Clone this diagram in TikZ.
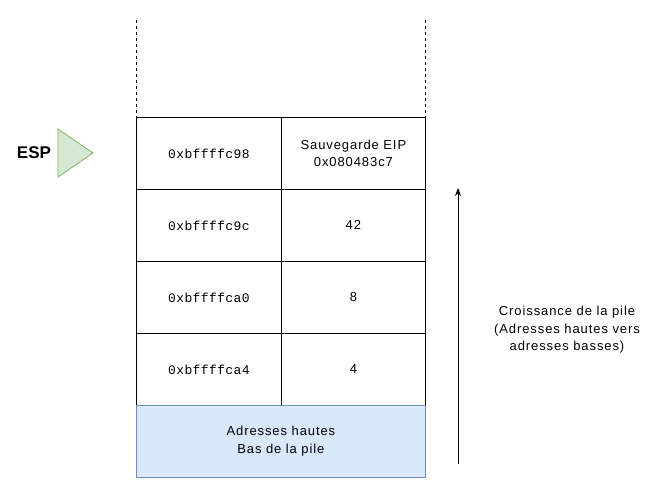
\documentclass[tikz,border=0pt]{standalone}
\usepackage{fontspec}
\setmainfont{Liberation Sans}[LetterSpace=7]
\newfontfamily\espfont{Liberation Sans}[LetterSpace=0]
\newfontfamily\monofont{Liberation Mono}[LetterSpace=3]
\usetikzlibrary{arrows.meta}
\definecolor{greenfill}{HTML}{D5E8D4}
\definecolor{greenline}{HTML}{82B366}
\definecolor{bluefill}{HTML}{DAE8FC}
\definecolor{blueline}{HTML}{6C8EBF}
\tikzset{
  cell/.style={draw=black, line width=0.8pt, minimum width=145pt, minimum height=72pt, inner sep=0pt, anchor=north west, font=\fontsize{13}{17}\selectfont, align=center},
  addr/.style={cell, font=\monofont\fontsize{13}{15}\selectfont},
  txt/.style={font=\fontsize{13}{17.5}\selectfont, align=center, text=black}
}
\begin{document}
\begin{tikzpicture}[x=1pt,y=-1pt]
\useasboundingbox (0,0) rectangle (657,492);
% dashed sides
\coordinate (dl1) at (136,20); \coordinate (dl2) at (136,117);
\coordinate (dr1) at (425,20); \coordinate (dr2) at (425,117);
\draw[dashed, dash pattern=on 3pt off 3pt, line width=0.8pt] (dl1) -- (dl2);
\draw[dashed, dash pattern=on 3pt off 3pt, line width=0.8pt] (dr1) -- (dr2);
% rows
\node[addr] (a1) at (136,117) {0xbffffc98};
\node[cell, minimum width=144pt] (v1) at (281,117) {Sauvegarde EIP\\0x080483c7};
\node[addr] (a2) at (136,189) {0xbffffc9c};
\node[cell, minimum width=144pt] (v2) at (281,189) {42};
\node[addr] (a3) at (136,261) {0xbffffca0};
\node[cell, minimum width=144pt] (v3) at (281,261) {8};
\node[addr] (a4) at (136,333) {0xbffffca4};
\node[cell, minimum width=144pt] (v4) at (281,333) {4};
\node[cell, draw=blueline, fill=bluefill, minimum width=289pt, font=\fontsize{13}{18}\selectfont] (base) at (136,405) {Adresses hautes\\Bas de la pile};
% ESP pointer
\node[font=\espfont\bfseries\fontsize{17}{18}\selectfont] (esp) at (34,153) {ESP};
\draw[draw=greenline, fill=greenfill, line width=0.8pt] (58,129) -- (93,153) -- (58,177) -- cycle;
% growth arrow
\coordinate (g1) at (458,464); \coordinate (g2) at (458,188);
\draw[line width=0.8pt, -{Stealth[length=8pt,width=6pt]}] (g1) -- (g2);
\node[txt] (gtxt) at (567,330) {Croissance de la pile\\(Adresses hautes vers\\adresses basses)};
\end{tikzpicture}
\end{document}
